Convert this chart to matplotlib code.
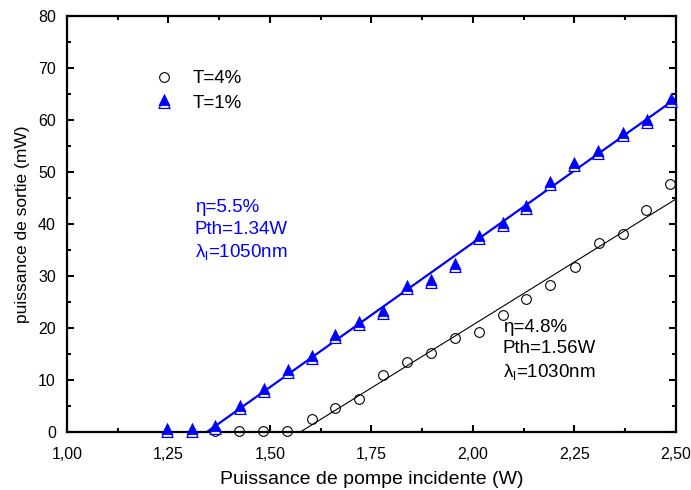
import numpy as np
import matplotlib
matplotlib.use('Agg')
import matplotlib.pyplot as plt
from matplotlib.legend_handler import HandlerTuple

plt.rcParams['font.family'] = ['Liberation Sans', 'DejaVu Sans']

# data
x_t1 = [1.247, 1.308, 1.365, 1.426, 1.485, 1.544, 1.603, 1.661, 1.720, 1.778, 1.838,
        1.896, 1.957, 2.016, 2.073, 2.132, 2.191, 2.250, 2.309, 2.369, 2.428, 2.487]
y_t1 = [0.4, 0.4, 1.0, 4.8, 8.1, 11.8, 14.4, 18.4, 21.0, 23.1, 27.9,
        29.0, 32.2, 37.6, 40.1, 43.3, 47.9, 51.5, 53.8, 57.4, 59.9, 63.8]

x_t4 = [1.365, 1.424, 1.484, 1.543, 1.603, 1.661, 1.720, 1.778, 1.838, 1.896,
        1.957, 2.016, 2.073, 2.132, 2.191, 2.251, 2.310, 2.369, 2.426, 2.485]
y_t4 = [0.2, 0.25, 0.25, 0.25, 2.5, 4.6, 6.3, 11.0, 13.5, 15.3,
        18.1, 19.3, 22.5, 25.7, 28.3, 31.8, 36.3, 38.2, 42.7, 47.7]

# linear fits: slope (mW/W) and threshold (W)
fit_t1 = [55.5, 1.344]
fit_t4 = [48.4, 1.574]
x_end = 2.50

xticks = [1.00, 1.25, 1.50, 1.75, 2.00, 2.25, 2.50]
xtick_labels = ['1,00', '1,25', '1,50', '1,75', '2,00', '2,25', '2,50']
yticks = [0, 10, 20, 30, 40, 50, 60, 70, 80]

blue = '#0000ff'

# triangle drawn as an open triangle with a filled one slightly above it
tri_open = [(0, 0.75), (-1, -1.25), (1, -1.25), (0, 0.75)]
tri_fill = [(0, 1.25), (-1, -0.75), (1, -0.75), (0, 1.25)]

fig = plt.figure(figsize=(6.91, 4.90), dpi=100)
ax = fig.add_axes([0.097, 0.118, 0.881, 0.849])

# 1. fitted lines
xf1 = np.array([fit_t1[1], x_end])
ax.plot(xf1, fit_t1[0] * (xf1 - fit_t1[1]), color=blue, lw=1.6, zorder=2)
xf4 = np.array([fit_t4[1], x_end])
ax.plot(xf4, fit_t4[0] * (xf4 - fit_t4[1]), color='black', lw=0.8, zorder=2)

# 2. measured points
h4, = ax.plot(x_t4, y_t4, 'o', ms=7, mfc='none', mec='black', mew=0.8,
              ls='none', clip_on=False, zorder=3)
h1a, = ax.plot(x_t1, y_t1, marker=tri_open, ms=10, mfc='white', mec=blue, mew=0.9,
               ls='none', clip_on=False, zorder=3)
h1b, = ax.plot(x_t1, y_t1, marker=tri_fill, ms=10, mfc=blue, mec=blue, mew=0.5,
               ls='none', clip_on=False, zorder=4)

# 3. annotations
ax.text(1.315, 44.8, 'η=5.5%\nPth=1.34W\nλ$_\\mathregular{l}$=1050nm', color=blue,
        fontsize=13.5, va='top', ha='left', linespacing=1.35)
ax.text(2.074, 21.85, 'η=4.8%\nPth=1.56W\nλ$_\\mathregular{l}$=1030nm', color='black',
        fontsize=13.5, va='top', ha='left', linespacing=1.35)

leg = ax.legend([h4, (h1a, h1b)], ['T=4%', 'T=1%'],
                handler_map={tuple: HandlerTuple(ndivide=1, pad=0)},
                loc='upper left', bbox_to_anchor=(0.128, 0.888), frameon=False,
                fontsize=13.5, handlelength=1.2, handletextpad=0.95,
                labelspacing=0.4, borderaxespad=0)

# 4. axes styling
ax.set_xlim(1.0, 2.5)
ax.set_ylim(0, 80)
ax.set_xticks(xticks)
ax.set_xticklabels(xtick_labels)
ax.set_yticks(yticks)
ax.set_xticks(np.arange(1.125, 2.5, 0.25), minor=True)
ax.set_yticks(np.arange(5, 80, 10), minor=True)
ax.tick_params(which='both', direction='in', top=True, right=True, width=1.5,
               labelsize=11.5)
ax.tick_params(which='major', length=5)
ax.tick_params(which='minor', length=3)
ax.tick_params(axis='x', which='major', pad=11)
ax.tick_params(axis='y', which='major', pad=8)
for s in ax.spines.values():
    s.set_linewidth(1.6)

ax.set_xlabel('Puissance de pompe incidente (W)', fontsize=14, labelpad=6)
ax.set_ylabel('puissance de sortie (mW)', fontsize=12.5, labelpad=6)

fig.savefig('out.png', dpi=100)
